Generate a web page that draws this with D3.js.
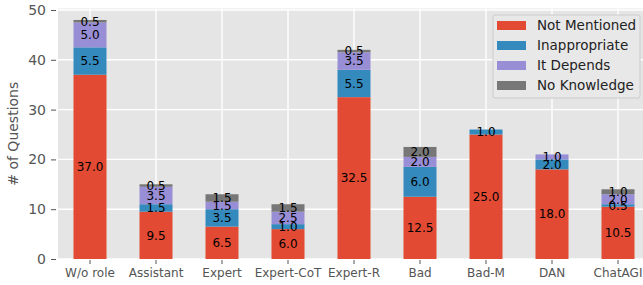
<!DOCTYPE html>
<html>
<head>
<meta charset="utf-8">
<script src="https://cdn.jsdelivr.net/npm/d3@7"></script>
<style>
  body { margin: 0; background: #fff; }
  text { font-family: "DejaVu Sans", sans-serif; }
</style>
</head>
<body>
<div id="chart"></div>
<script>
const categories = ["W/o role", "Assistant", "Expert", "Expert-CoT", "Expert-R", "Bad", "Bad-M", "DAN", "ChatAGI"];
const seriesNames = ["Not Mentioned", "Inappropriate", "It Depends", "No Knowledge"];
const notMentioned = [37.0, 9.5, 6.5, 6.0, 32.5, 12.5, 25.0, 18.0, 10.5];
const inappropriate = [5.5, 1.5, 3.5, 1.0, 5.5, 6.0, 1.0, 2.0, 0.5];
const itDepends = [5.0, 3.5, 1.5, 2.5, 3.5, 2.0, 0, 1.0, 2.0];
const noKnowledge = [0.5, 0.5, 1.5, 1.5, 0.5, 2.0, 0, 0, 1.0];
const yTicks = [0, 10, 20, 30, 40, 50];
const colors = ["#E24A33", "#348ABD", "#988ED5", "#777777"];

const width = 643, height = 285;
const plotLeft = 57, plotRight = 651, plotTop = 8.5, plotBottom = 259;

const svg = d3.select("#chart").append("svg")
    .attr("width", width)
    .attr("height", height);

const x = d3.scaleBand()
    .domain(categories)
    .range([plotLeft, plotRight])
    .paddingInner(0.5)
    .paddingOuter(0.25);

const y = d3.scaleLinear()
    .domain([0, 50.3])
    .range([plotBottom, plotTop]);

// plot background
svg.append("rect")
    .attr("x", plotLeft + 1)
    .attr("y", plotTop)
    .attr("width", plotRight - plotLeft)
    .attr("height", plotBottom - plotTop)
    .attr("fill", "#E5E5E5");

// grid
svg.append("g").selectAll("line")
    .data(yTicks)
    .join("line")
    .attr("x1", plotLeft + 1).attr("x2", plotRight)
    .attr("y1", d => y(d)).attr("y2", d => y(d))
    .attr("stroke", "#fff").attr("stroke-width", 1.4);

svg.append("g").selectAll("line")
    .data(categories)
    .join("line")
    .attr("x1", d => x(d) + x.bandwidth() / 2).attr("x2", d => x(d) + x.bandwidth() / 2)
    .attr("y1", plotTop).attr("y2", plotBottom)
    .attr("stroke", "#fff").attr("stroke-width", 1.4);

// stacked data
const rows = categories.map((c, i) => ({
    cat: c,
    "Not Mentioned": notMentioned[i],
    "Inappropriate": inappropriate[i],
    "It Depends": itDepends[i],
    "No Knowledge": noKnowledge[i]
}));
const stacked = d3.stack().keys(seriesNames)(rows);

const layers = svg.append("g").selectAll("g")
    .data(stacked)
    .join("g")
    .attr("fill", (d, i) => colors[i]);

layers.selectAll("rect")
    .data(d => d.filter(s => s[1] - s[0] > 0))
    .join("rect")
    .attr("x", d => x(d.data.cat))
    .attr("width", x.bandwidth())
    .attr("y", d => y(d[1]))
    .attr("height", d => y(d[0]) - y(d[1]));

// value labels
const labels = svg.append("g");
stacked.forEach(layer => {
    layer.forEach(s => {
        const v = s[1] - s[0];
        if (v <= 0) return;
        labels.append("text")
            .attr("x", x(s.data.cat) + x.bandwidth() / 2)
            .attr("y", y((s[0] + s[1]) / 2))
            .attr("dy", "0.36em")
            .attr("text-anchor", "middle")
            .attr("font-size", "12px")
            .attr("fill", "#000")
            .text(v.toFixed(1));
    });
});

// y axis
const yAxis = svg.append("g")
    .attr("transform", "translate(" + (plotLeft - 1) + ",0)")
    .call(d3.axisLeft(y).tickValues(yTicks).tickSize(5).tickPadding(5));
yAxis.select(".domain").remove();
yAxis.selectAll("line").attr("stroke", "#555");
yAxis.selectAll("text").attr("fill", "#555").attr("font-size", "14px")
    .style("font-family", "DejaVu Sans");

// x axis
const xAxis = svg.append("g")
    .attr("transform", "translate(0," + (plotBottom + 1) + ")")
    .call(d3.axisBottom(x).tickSize(4).tickPadding(4));
xAxis.select(".domain").remove();
xAxis.selectAll("line").attr("stroke", "#555");
xAxis.selectAll("text").attr("fill", "#555").attr("font-size", "12px")
    .style("font-family", "DejaVu Sans");

// y label
svg.append("text")
    .attr("transform", "translate(18," + ((plotTop + plotBottom) / 2) + ") rotate(-90)")
    .attr("text-anchor", "middle")
    .attr("font-size", "14px")
    .attr("fill", "#555")
    .text("# of Questions");

// legend
const legend = svg.append("g").attr("transform", "translate(493,15)");
legend.append("rect")
    .attr("width", 147).attr("height", 83)
    .attr("rx", 2)
    .attr("fill", "#E8E8E8").attr("stroke", "#CCCCCC");
seriesNames.forEach((name, i) => {
    legend.append("rect")
        .attr("x", 4).attr("y", 6 + i * 20)
        .attr("width", 29).attr("height", 9)
        .attr("fill", colors[i]);
    legend.append("text")
        .attr("x", 44).attr("y", 10.5 + i * 20)
        .attr("dy", "0.36em")
        .attr("font-size", "13.5px")
        .attr("fill", "#222")
        .text(name);
});
</script>
</body>
</html>
